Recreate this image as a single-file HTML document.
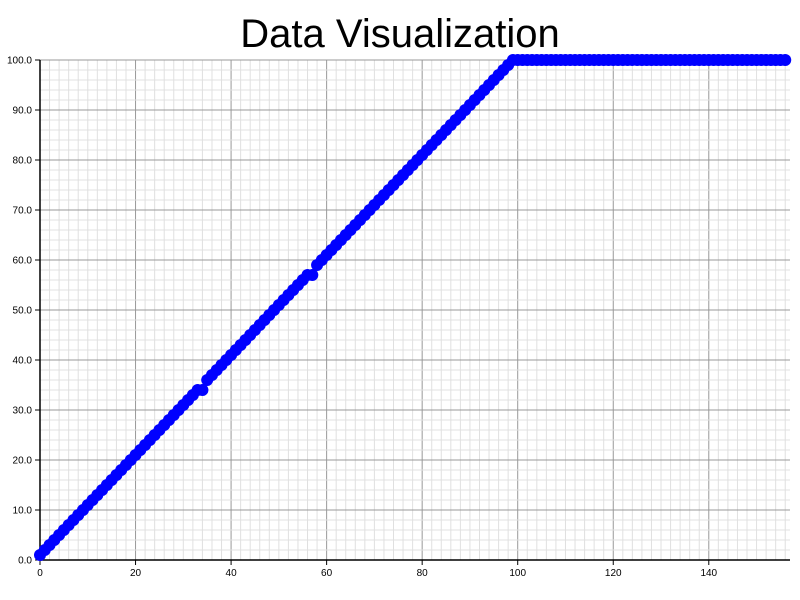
<!DOCTYPE html>
<html><head><meta charset="utf-8"><style>
body{margin:0;background:#fff;}
svg{display:block;font-family:"Liberation Sans",Arial,sans-serif;}
</style></head><body>
<svg id="chart" width="800" height="600">
<text x="400" y="47" text-anchor="middle" font-size="40" fill="#000">Data Visualization</text>
<g id="grid"></g>
<g id="axes"></g>
<g id="points"></g>
</svg>
<script>
const xTicks=[0,20,40,60,80,100,120,140];
const yTicks=[0,10,20,30,40,50,60,70,80,90,100];
const yValues=[1,2,3,4,5,6,7,8,9,10,11,12,13,14,15,16,17,18,19,20,21,22,23,24,25,26,27,28,29,30,31,32,33,34,
34,
36,37,38,39,40,41,42,43,44,45,46,47,48,49,50,51,52,53,54,55,56,57,
57,
59,60,61,62,63,64,65,66,67,68,69,70,71,72,73,74,75,76,77,78,79,80,81,82,83,84,85,86,87,88,89,90,91,92,93,94,95,96,97,98,99,100,
100,100,100,100,100,100,100,100,100,100,100,100,100,100,100,100,100,100,100,100,100,100,100,100,100,100,100,100,100,100,100,100,100,100,100,100,100,100,100,100,100,100,100,100,100,100,100,100,100,100,100,100,100,100,100,100,100];
const NS="http://www.w3.org/2000/svg";
const L=40,R=790,T=60,B=560,XMAX=157,YMAX=100;
const sx=v=>L+(R-L)*v/XMAX, sy=v=>B-(B-T)*v/YMAX;
function mk(tag,attrs,parent){const e=document.createElementNS(NS,tag);for(const k in attrs)e.setAttribute(k,attrs[k]);parent.appendChild(e);return e;}
const grid=document.getElementById('grid'),axes=document.getElementById('axes'),pts=document.getElementById('points');
for(let v=0;v<=XMAX;v+=2){const major=v%20===0;
 const ln=mk('line',{x1:sx(v),x2:sx(v),y1:T,y2:B,stroke:major?'#999':'#e0e0e0','stroke-width':1},grid);
 
 }
for(let v=0;v<=YMAX;v+=2){const major=v%10===0;
 const ln=mk('line',{x1:L,x2:R,y1:sy(v),y2:sy(v),stroke:major?'#999':'#e0e0e0','stroke-width':1},grid);
 
 }
const xa=mk('line',{x1:L,x2:R,y1:B,y2:B,stroke:'#000','stroke-width':1.5},axes);


const ya=mk('line',{x1:L,x2:L,y1:T,y2:B,stroke:'#000','stroke-width':1.5},axes);


xTicks.forEach(v=>{mk('line',{x1:sx(v),x2:sx(v),y1:B,y2:B+5,stroke:'#000'},axes);
 const t=mk('text',{x:sx(v),y:B+16,'text-anchor':'middle','font-size':10},axes);t.textContent=v;
 
 });
yTicks.forEach(v=>{mk('line',{x1:L-5,x2:L,y1:sy(v),y2:sy(v),stroke:'#000'},axes);
 const t=mk('text',{x:L-8,y:sy(v)+3.5,'text-anchor':'end','font-size':10},axes);t.textContent=v.toFixed(1);
 
 });
yValues.forEach((v,i)=>{const c=mk('circle',{cx:sx(i),cy:sy(v),r:6,fill:'#0000ff'},pts);
 
 });
</script>
</body></html>
